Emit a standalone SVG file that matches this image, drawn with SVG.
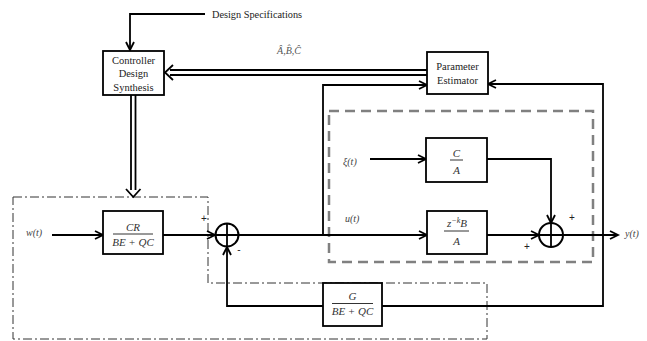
<svg xmlns="http://www.w3.org/2000/svg" width="647" height="341" viewBox="0 0 647 341">
<defs>
<marker id="arr" markerUnits="userSpaceOnUse" markerWidth="12" markerHeight="12" refX="9" refY="5" orient="auto">
<path d="M1,1 L9,5 L1,9" fill="none" stroke="#000" stroke-width="1.8"/>
</marker>
</defs>
<style>
.box{fill:#fff;stroke:#000;stroke-width:1.8}
.ln{fill:none;stroke:#000;stroke-width:1.8}
.lbl{font-family:"Liberation Serif",serif;font-size:10.5px;fill:#222;text-anchor:middle}
.math{font-family:"Liberation Serif",serif;font-style:italic;font-size:11px;fill:#333;text-anchor:middle}
.sig{font-family:"Liberation Serif",serif;font-style:italic;font-size:10px;fill:#444}
.sign{font-family:"Liberation Sans",sans-serif;font-size:10px;fill:#222;text-anchor:middle}
.bar{stroke:#333;stroke-width:1}
</style>
<rect width="647" height="341" fill="#fff"/>

<!-- boundaries -->
<rect x="329" y="111" width="264" height="151" fill="none" stroke="#808080" stroke-width="2.5" stroke-dasharray="10 6"/>
<path d="M13,197 H208 V283 H487 V339 H13 Z" fill="none" stroke="#333" stroke-width="1" stroke-dasharray="9 3 2 3"/>

<g id="connectors">
<path class="ln" d="M205,14 H130 V50" marker-end="url(#arr)"/>
<path class="ln" d="M427,70 H170 M427,75 H170" stroke-width="1.6"/>
<path class="ln" d="M173,65 L165,72.5 L173,80" stroke-width="1.8"/>
<path class="ln" d="M131,95 V190 M135.5,95 V190" stroke-width="1.6"/>
<path class="ln" d="M126,189 L133.25,197 L140.5,189" stroke-width="1.8"/>
<path class="ln" d="M52,235 H103" marker-end="url(#arr)"/>
<path class="ln" d="M163,235 H215" marker-end="url(#arr)"/>
<path class="ln" d="M239,235 H427" marker-end="url(#arr)"/>
<path class="ln" d="M323,235 V85 H427" marker-end="url(#arr)"/>
<path class="ln" d="M370,159 H426" marker-end="url(#arr)"/>
<path class="ln" d="M487,159 H551 V223" marker-end="url(#arr)"/>
<path class="ln" d="M487,235 H539" marker-end="url(#arr)"/>
<path class="ln" d="M563,235 H618" marker-end="url(#arr)"/>
<path class="ln" d="M382,306 H603 V84 H488" marker-end="url(#arr)"/>
<path class="ln" d="M323,306 H227 V247" marker-end="url(#arr)"/>
</g>

<g id="design-spec"><text x="212" y="18" style="font-family:'Liberation Serif',serif;font-size:10.3px;fill:#222">Design Specifications</text></g>
<g id="param-label"><text x="289" y="54" class="math" style="font-size:10px;fill:#555">Â,B̂,Ĉ</text></g>

<g id="controller">
<rect class="box" x="103" y="51" width="61" height="44"/>
<text class="lbl" x="133.5" y="64">Controller</text>
<text class="lbl" x="133.5" y="77">Design</text>
<text class="lbl" x="133.5" y="91">Synthesis</text>
</g>

<g id="estimator">
<rect class="box" x="427" y="52" width="61" height="42"/>
<text class="lbl" x="457.5" y="70">Parameter</text>
<text class="lbl" x="457.5" y="84">Estimator</text>
</g>

<g id="cr">
<rect class="box" x="103" y="211" width="60" height="43"/>
<text class="math" x="133" y="231">CR</text>
<line class="bar" x1="113" y1="234" x2="153" y2="234"/>
<text class="math" x="133" y="246">BE + QC</text>
</g>

<g id="g-block">
<rect class="box" x="323" y="283" width="59" height="43"/>
<text class="math" x="352.5" y="300">G</text>
<line class="bar" x1="332" y1="303.5" x2="373" y2="303.5"/>
<text class="math" x="352.5" y="315">BE + QC</text>
</g>

<g id="ca">
<rect class="box" x="426" y="138" width="61" height="44"/>
<text class="math" x="456.5" y="157">C</text>
<line class="bar" x1="450" y1="160" x2="463" y2="160"/>
<text class="math" x="456.5" y="174">A</text>
</g>

<g id="zb">
<rect class="box" x="427" y="211" width="60" height="43"/>
<text class="math" x="457" y="227">z<tspan font-size="8" baseline-shift="super">−k</tspan>B</text>
<line class="bar" x1="444" y1="231" x2="469" y2="231"/>
<text class="math" x="456.5" y="245">A</text>
</g>

<g id="sum1">
<circle cx="227" cy="235" r="11.5" fill="#fff" stroke="#000" stroke-width="2"/>
<path d="M227,223.5 V246.5 M215.5,235 H238.5" stroke="#000" stroke-width="1.8"/>
<text class="sign" x="204" y="222">+</text>
<text class="sign" x="239" y="253">-</text>
</g>

<g id="sum2">
<circle cx="551" cy="235" r="12" fill="#fff" stroke="#000" stroke-width="2"/>
<path d="M551,223 V247 M539,235 H563" stroke="#000" stroke-width="1.8"/>
<text class="sign" x="572" y="221">+</text>
<text class="sign" x="527" y="250">+</text>
</g>

<g id="signals">
<text class="sig" x="26" y="236">w(t)</text>
<text class="sig" x="345" y="222">u(t)</text>
<text class="sig" x="343" y="165">ξ(t)</text>
<text class="sig" x="625" y="237">y(t)</text>
</g>
</svg>
